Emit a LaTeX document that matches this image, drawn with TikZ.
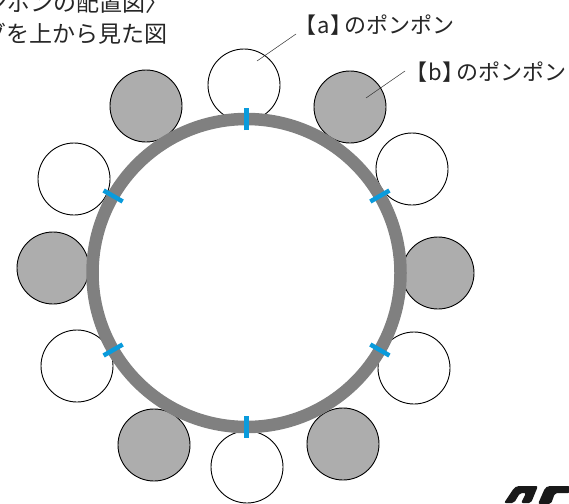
\documentclass[tikz,border=0pt]{standalone}
\usepackage{fontspec}
\newfontfamily\cjk{Noto Sans CJK JP}
\newfontfamily\cjkp[RawFeature=+palt]{Noto Sans CJK JP}
\definecolor{ringgray}{HTML}{808080}
\definecolor{pomgray}{HTML}{ADADAD}
\definecolor{tickblue}{HTML}{0A9BDC}
\newcommand{\pomfont}{\fontsize{22}{24}\selectfont}
\newcommand{\pomlabel}[1]{{\cjkp\pomfont 【\kern1pt#1\kern1pt】\kern3pt}{\cjk\pomfont のポンポン}}
\tikzset{
    pompon/.style={draw=black,circle,minimum size=72pt,inner sep=0pt,line width=0.9pt},
    pomwhite/.style={pompon,fill=white},
    pomgrey/.style={pompon,fill=pomgray},
    tick/.style={draw=tickblue,line width=4.5pt},
    leader/.style={draw=black!80,line width=0.5pt},
    label/.style={inner sep=0pt,text=black!85}
}
\begin{document}
\begin{tikzpicture}[x=1pt,y=-1pt]
    \useasboundingbox (0,0) rectangle (569,503);
    \clip (0,0) rectangle (569,503);
    %% Pompons
    \node[pomwhite] (p1) at (244,85) {};
    \node[pomgrey] (p2) at (350,107) {};
    \node[pomwhite] (p3) at (412,169) {};
    \node[pomgrey] (p4) at (438,273) {};
    \node[pomwhite] (p5) at (414,368) {};
    \node[pomgrey] (p6) at (343,444) {};
    \node[pomwhite] (p7) at (247,467) {};
    \node[pomgrey] (p8) at (154,445) {};
    \node[pomwhite] (p9) at (77,366) {};
    \node[pomgrey] (p10) at (53,268) {};
    \node[pomwhite] (p11) at (74,179) {};
    \node[pomgrey] (p12) at (146,106) {};
    %% Ring
    \coordinate (centre) at (246.5,273);
    \draw[ringgray,line width=12.5pt] (centre) circle (154);
    %% Ticks
    \foreach \ang in {90,270,30,-30,150,210}{
        \draw[tick] ([shift={(\ang:-143)}]centre) -- ([shift={(\ang:-165)}]centre);
    }
    %% Labels
    \node[label,anchor=west] (la) at (305,25) {\pomlabel{a}};
    \node[label,anchor=west] (lb) at (416,72) {\pomlabel{b}};
    \coordinate (la0) at (296,34);
    \coordinate (la1) at (257,61);
    \coordinate (lb0) at (405,71);
    \coordinate (lb1) at (366,98);
    \draw[leader] (la0) -- (la1);
    \draw[leader] (lb0) -- (lb1);
    %% Cut off at the edge
    \node[label,anchor=east] (head) at (169,3) {\cjk\fontsize{23}{24}\selectfont 〈ポンポンの配置図〉};
    \node[label,anchor=east] (sub) at (168,34) {\cjk\fontsize{23}{24}\selectfont リングを上から見た図};
    %% Logo
    \fill[black!90,rounded corners=2pt] (504,503) -- (514,488) -- (517,486) -- (538,486) -- (531,503) -- (521,503) -- (526,493) -- (520,493) -- (514,503) -- cycle;
    \fill[black!90,rounded corners=2pt] (538,504) -- (545,488) -- (548,486) -- (570,486) -- (570,493) -- (555,493) -- (551,504) -- cycle;
\end{tikzpicture}
\end{document}
